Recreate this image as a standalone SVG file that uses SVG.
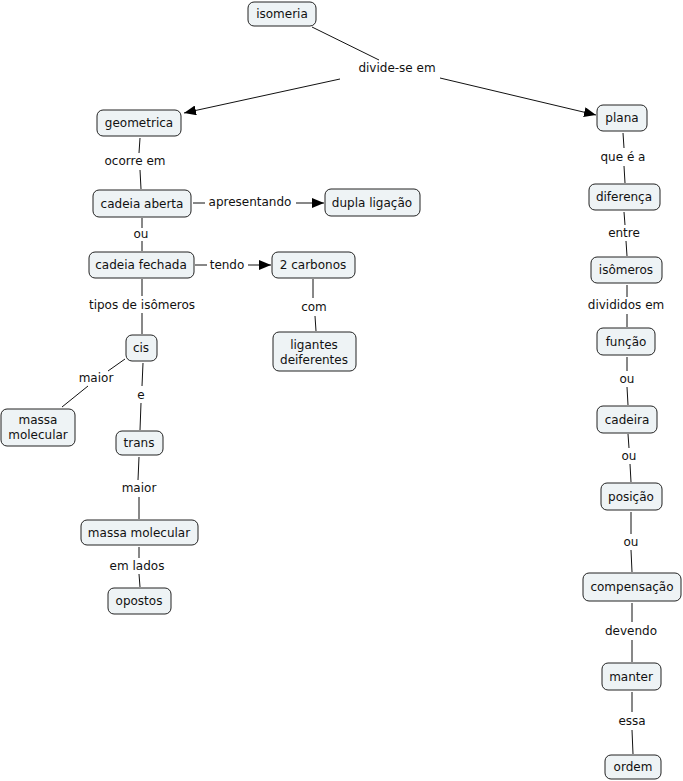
<svg xmlns="http://www.w3.org/2000/svg" width="683" height="781" viewBox="0 0 683 781">
<defs>
<marker id="arr" viewBox="0 0 12 10" refX="12" refY="5" markerWidth="12" markerHeight="10" markerUnits="userSpaceOnUse" orient="auto">
<path d="M0,0 L12,5 L0,10 z" fill="#000"/>
</marker>
<style>
.n rect{fill:#eef3f5;stroke:#222;stroke-width:1;}
text{font-family:"DejaVu Sans",Verdana,sans-serif;font-size:12px;fill:#111;text-anchor:middle;}
.c line{stroke:#111;stroke-width:1;fill:none;}
.c .a{marker-end:url(#arr);}
</style>
</defs>
<rect width="683" height="781" fill="#fff"/>
<g class="c" id="connectors">
<line x1="312" y1="27" x2="379" y2="60"/>
<line class="a" x1="340" y1="79" x2="184" y2="113"/>
<line class="a" x1="440" y1="78" x2="596" y2="115"/>
<line x1="140" y1="138" x2="139" y2="153"/>
<line x1="140" y1="170" x2="141" y2="189"/>
<line x1="193" y1="203" x2="205" y2="203"/>
<line class="a" x1="296" y1="203" x2="324" y2="203"/>
<line x1="142" y1="218" x2="142" y2="228"/>
<line x1="142" y1="241" x2="142" y2="251"/>
<line x1="195" y1="265" x2="207" y2="265"/>
<line class="a" x1="248" y1="265" x2="271" y2="265"/>
<line x1="142" y1="279" x2="142" y2="296"/>
<line x1="142" y1="313" x2="142" y2="334"/>
<line x1="313" y1="279" x2="313" y2="298"/>
<line x1="315" y1="316" x2="316" y2="331"/>
<line x1="125" y1="359" x2="108" y2="371"/>
<line x1="88" y1="386" x2="62" y2="407"/>
<line x1="143" y1="363" x2="142" y2="386"/>
<line x1="141" y1="403" x2="140" y2="430"/>
<line x1="139" y1="457" x2="138" y2="480"/>
<line x1="139" y1="497" x2="139" y2="519"/>
<line x1="139" y1="547" x2="139" y2="558"/>
<line x1="139" y1="574" x2="140" y2="587"/>
<line x1="623" y1="133" x2="624" y2="148"/>
<line x1="624" y1="166" x2="625" y2="183"/>
<line x1="624" y1="212" x2="625" y2="225"/>
<line x1="626" y1="241" x2="627" y2="256"/>
<line x1="627" y1="285" x2="627" y2="297"/>
<line x1="627" y1="314" x2="627" y2="327"/>
<line x1="627" y1="357" x2="627" y2="371"/>
<line x1="627" y1="387" x2="628" y2="405"/>
<line x1="628" y1="434" x2="629" y2="448"/>
<line x1="630" y1="464" x2="631" y2="482"/>
<line x1="631" y1="512" x2="631" y2="534"/>
<line x1="631" y1="550" x2="632" y2="572"/>
<line x1="632" y1="603" x2="632" y2="622"/>
<line x1="632" y1="640" x2="632" y2="662"/>
<line x1="632" y1="692" x2="632" y2="712"/>
<line x1="632" y1="730" x2="633" y2="754"/>
</g>
<g id="labels">
<text x="397" y="72">divide-se em</text>
<text x="135" y="165">ocorre em</text>
<text x="250" y="206">apresentando</text>
<text x="141" y="238">ou</text>
<text x="227" y="269">tendo</text>
<text x="142" y="309">tipos de isômeros</text>
<text x="314" y="311">com</text>
<text x="96" y="382">maior</text>
<text x="141" y="399">e</text>
<text x="139" y="492">maior</text>
<text x="137" y="570">em lados</text>
<text x="623" y="161">que é a</text>
<text x="624" y="237">entre</text>
<text x="626" y="309">divididos em</text>
<text x="627" y="383">ou</text>
<text x="629" y="460">ou</text>
<text x="631" y="546">ou</text>
<text x="631" y="635">devendo</text>
<text x="632" y="725">essa</text>
</g>
<g class="n" id="isomeria"><rect x="248" y="2" width="68" height="24" rx="6"/><text x="282" y="18">isomeria</text></g>
<g class="n" id="geometrica"><rect x="97" y="110" width="84" height="26" rx="6"/><text x="139" y="127">geometrica</text></g>
<g class="n" id="cadeia_aberta"><rect x="93" y="190" width="98" height="27" rx="6"/><text x="142" y="208">cadeia aberta</text></g>
<g class="n" id="dupla_ligacao"><rect x="325" y="189" width="95" height="27" rx="6"/><text x="372" y="207">dupla ligação</text></g>
<g class="n" id="cadeia_fechada"><rect x="89" y="252" width="105" height="26" rx="6"/><text x="141" y="269">cadeia fechada</text></g>
<g class="n" id="carbonos"><rect x="272" y="252" width="83" height="26" rx="6"/><text x="313" y="269">2 carbonos</text></g>
<g class="n" id="ligantes"><rect x="273" y="332" width="83" height="39" rx="6"/><text x="314" y="349">ligantes</text><text x="314" y="364">deiferentes</text></g>
<g class="n" id="cis"><rect x="126" y="335" width="31" height="26" rx="6"/><text x="141" y="352">cis</text></g>
<g class="n" id="massa_molecular_1"><rect x="1" y="409" width="74" height="37" rx="6"/><text x="38" y="424">massa</text><text x="38" y="439">molecular</text></g>
<g class="n" id="trans"><rect x="116" y="431" width="47" height="24" rx="6"/><text x="139" y="447">trans</text></g>
<g class="n" id="massa_molecular_2"><rect x="81" y="520" width="117" height="25" rx="6"/><text x="139" y="537">massa molecular</text></g>
<g class="n" id="opostos"><rect x="108" y="588" width="63" height="26" rx="6"/><text x="139" y="605">opostos</text></g>
<g class="n" id="plana"><rect x="597" y="105" width="50" height="26" rx="6"/><text x="622" y="122">plana</text></g>
<g class="n" id="diferenca"><rect x="589" y="184" width="71" height="26" rx="6"/><text x="624" y="201">diferença</text></g>
<g class="n" id="isomeros"><rect x="591" y="257" width="71" height="26" rx="6"/><text x="626" y="274">isômeros</text></g>
<g class="n" id="funcao"><rect x="597" y="328" width="58" height="27" rx="6"/><text x="626" y="346">função</text></g>
<g class="n" id="cadeira"><rect x="597" y="406" width="60" height="27" rx="6"/><text x="627" y="424">cadeira</text></g>
<g class="n" id="posicao"><rect x="601" y="483" width="61" height="27" rx="6"/><text x="631" y="501">posição</text></g>
<g class="n" id="compensacao"><rect x="583" y="573" width="98" height="28" rx="6"/><text x="632" y="591">compensação</text></g>
<g class="n" id="manter"><rect x="602" y="663" width="59" height="27" rx="6"/><text x="631" y="681">manter</text></g>
<g class="n" id="ordem"><rect x="605" y="755" width="56" height="24" rx="6"/><text x="633" y="771">ordem</text></g>
</svg>
